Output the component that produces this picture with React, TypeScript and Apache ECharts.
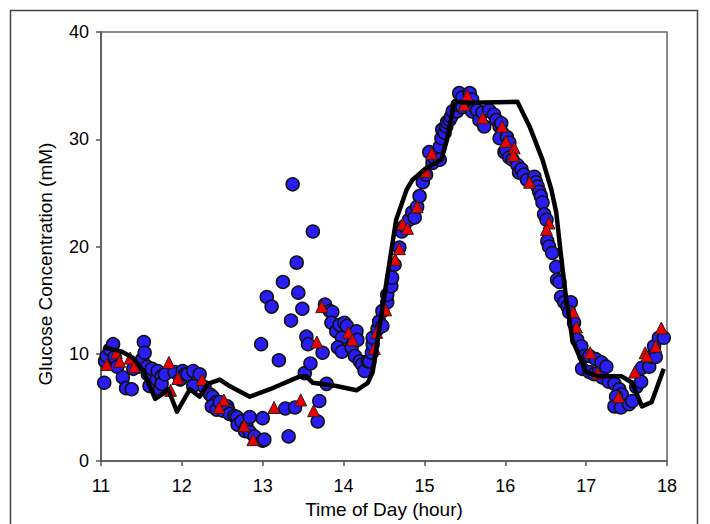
import React, { useEffect, useRef } from 'react';
import * as echarts from 'echarts';

const xTicks = [11, 12, 13, 14, 15, 16, 17, 18];
const yTicks = [0, 10, 20, 30, 40];
const xTitle = 'Time of Day (hour)';
const yTitle = 'Glucose Concentration (mM)';

// blue circles: [hour, mM]
const circleData: [number, number][] = [
  [11.04, 7.3], [11.05, 9.3], [11.07, 9.8], [11.11, 10.4], [11.15, 10.9], [11.17, 9.7], [11.2, 8.8],
  [11.27, 7.8], [11.31, 6.8], [11.38, 6.7], [11.4, 8.6], [11.46, 8.8], [11.51, 9.5], [11.53, 11.1],
  [11.54, 10.1], [11.57, 8.8], [11.58, 8.1], [11.6, 7.0], [11.63, 8.6], [11.69, 7.6], [11.7, 8.4],
  [11.73, 6.7], [11.75, 7.9], [11.75, 7.2], [11.79, 8.1], [11.91, 8.3], [11.98, 7.6], [12.01, 8.4],
  [12.04, 8.1], [12.07, 8.1], [12.14, 8.4], [12.14, 7.0], [12.22, 8.1], [12.28, 6.9], [12.35, 6.2],
  [12.38, 6.0], [12.43, 5.5], [12.37, 5.1], [12.43, 4.8], [12.47, 5.5], [12.51, 4.7], [12.56, 5.1],
  [12.57, 4.8], [12.59, 4.4], [12.65, 4.2], [12.68, 4.1], [12.69, 3.4], [12.74, 3.7], [12.78, 2.8],
  [12.8, 3.2], [12.84, 4.1], [12.84, 2.7], [12.9, 2.3], [13.0, 4.0], [13.0, 1.9], [13.02, 2.0],
  [12.98, 10.9], [13.05, 15.3], [13.11, 14.4], [13.2, 9.4], [13.25, 16.7], [13.28, 4.9], [13.32, 2.3],
  [13.35, 13.1], [13.37, 25.8], [13.4, 5.0], [13.42, 18.5], [13.44, 15.7], [13.49, 14.2], [13.52, 8.2],
  [13.54, 11.6], [13.56, 10.9], [13.59, 9.1], [13.62, 21.4], [13.68, 3.7], [13.7, 5.6], [13.74, 10.1],
  [13.77, 14.6], [13.79, 7.2], [13.83, 14.0], [13.86, 13.9], [13.85, 12.9], [13.91, 12.1], [13.95, 12.7],
  [14.01, 12.9], [14.04, 12.6], [13.98, 11.5], [13.93, 10.6], [13.98, 10.2], [14.1, 10.6], [14.16, 12.1],
  [14.17, 11.3], [14.14, 9.8], [14.2, 9.3], [14.23, 9.0], [14.26, 8.4], [14.3, 9.3], [14.32, 9.3],
  [14.35, 10.1], [14.36, 10.9], [14.36, 11.5], [14.42, 12.3], [14.44, 13.0], [14.48, 12.6], [14.48, 14.0],
  [14.54, 14.8], [14.54, 15.5], [14.59, 16.3], [14.6, 17.1], [14.63, 18.3], [14.69, 19.9], [14.72, 21.4],
  [14.75, 21.9], [14.81, 22.5], [14.85, 23.2], [14.88, 22.7], [14.91, 23.7], [14.94, 24.7], [14.98, 26.0],
  [15.02, 26.7], [15.06, 28.8], [15.1, 27.8], [15.12, 28.3], [15.19, 29.3], [15.19, 28.1], [15.21, 30.1],
  [15.22, 30.9], [15.25, 30.6], [15.27, 31.2], [15.28, 31.6], [15.31, 31.8], [15.33, 32.1], [15.35, 32.6],
  [15.4, 32.6], [15.41, 33.2], [15.43, 34.3], [15.47, 33.9], [15.47, 33.0], [15.56, 34.3], [15.59, 33.7],
  [15.58, 32.9], [15.59, 32.6], [15.65, 32.7], [15.68, 31.8], [15.72, 32.5], [15.74, 31.2], [15.8, 32.7],
  [15.86, 32.3], [15.89, 31.8], [15.93, 31.2], [15.95, 31.5], [15.96, 30.6], [15.93, 30.1], [16.02, 30.2],
  [16.05, 29.7], [15.99, 28.8], [16.01, 29.0], [16.05, 28.3], [16.09, 28.1], [16.15, 27.6], [16.17, 26.9],
  [16.2, 27.2], [16.23, 26.7], [16.27, 26.2], [16.36, 26.5], [16.38, 26.0], [16.4, 25.6], [16.42, 25.1],
  [16.44, 24.7], [16.46, 24.1], [16.48, 23.0], [16.51, 22.5], [16.52, 20.5], [16.54, 20.0], [16.58, 19.4],
  [16.63, 18.1], [16.64, 16.9], [16.67, 16.7], [16.69, 15.3], [16.73, 14.8], [16.77, 14.4], [16.81, 14.8],
  [16.79, 13.9], [16.85, 12.9], [16.89, 11.3], [16.94, 10.7], [16.98, 9.8], [17.04, 9.8], [16.95, 8.6],
  [17.04, 8.3], [17.1, 8.1], [17.12, 9.5], [17.16, 8.3], [17.19, 9.2], [17.2, 7.8], [17.25, 8.8],
  [17.28, 7.4], [17.35, 7.2], [17.41, 6.7], [17.44, 6.2], [17.37, 6.0], [17.35, 5.1], [17.43, 5.0],
  [17.53, 5.3], [17.57, 5.6], [17.62, 6.9], [17.68, 7.4], [17.69, 8.7], [17.78, 8.8], [17.81, 9.7],
  [17.86, 9.7], [17.84, 10.7], [17.9, 11.5], [17.96, 11.5],
];

// red triangles: [hour, mM]
const triangleData: [number, number][] = [
  [11.07, 9.0], [11.19, 10.1], [11.23, 9.3], [11.36, 9.6], [11.41, 8.8], [11.84, 9.2], [11.95, 7.7],
  [11.86, 6.6], [12.25, 7.6], [12.52, 5.7], [12.46, 5.0], [12.77, 3.3], [12.88, 2.0], [13.14, 5.0],
  [13.47, 5.7], [13.63, 4.7], [13.67, 11.1], [13.73, 14.4], [14.06, 12.0], [14.11, 11.3], [14.38, 10.5],
  [14.41, 12.0], [14.52, 14.1], [14.64, 18.8], [14.69, 19.8], [14.73, 22.1], [14.79, 21.7], [14.91, 23.7],
  [15.02, 27.0], [15.09, 28.7], [15.49, 33.2], [15.53, 34.1], [15.72, 32.0], [15.96, 31.2], [16.01, 29.8],
  [16.11, 29.2], [16.1, 28.5], [16.3, 26.0], [16.54, 22.2], [16.51, 21.6], [16.84, 13.9], [16.88, 12.5],
  [17.05, 10.1], [17.14, 8.2], [17.4, 6.0], [17.6, 8.3], [17.73, 10.1], [17.75, 9.8], [17.86, 10.7],
  [17.93, 12.4],
];

// black model line: [hour, mM]
const lineData: [number, number][] = [
  [11.04, 10.6], [11.26, 10.2], [11.4, 9.6], [11.52, 8.4], [11.67, 5.8], [11.75, 6.2], [11.83, 6.7],
  [11.94, 4.6], [12.1, 6.7], [12.22, 6.0], [12.32, 7.2], [12.47, 7.6], [12.59, 7.0], [12.84, 6.0],
  [13.09, 6.7], [13.46, 7.9], [13.54, 7.9], [13.62, 7.3], [13.91, 7.0], [14.16, 6.6], [14.3, 7.3],
  [14.36, 8.3], [14.51, 15.7], [14.65, 22.5], [14.78, 25.3], [14.85, 26.2], [15.02, 27.3], [15.21, 28.1],
  [15.28, 30.0], [15.37, 33.5], [15.56, 33.4], [16.15, 33.5], [16.3, 31.2], [16.46, 28.1], [16.57, 25.3],
  [16.63, 23.2], [16.69, 19.1], [16.75, 15.3], [16.83, 11.3], [17.0, 8.3], [17.16, 7.9], [17.44, 7.9],
  [17.57, 7.3], [17.69, 5.1], [17.81, 5.5], [17.96, 8.6],
];

const FONT = '"Liberation Sans", Arial, Helvetica, sans-serif';

export default function App() {
  const ref = useRef<HTMLDivElement>(null);
  useEffect(() => {
    const chart = echarts.init(ref.current!, null, { renderer: 'svg' });
    chart.setOption({
      animation: false,
      backgroundColor: '#ffffff',
      textStyle: { fontFamily: FONT },
      graphic: [
        {
          type: 'rect',
          shape: { x: 10.5, y: 10.5, width: 687, height: 540 },
          style: { fill: 'none', stroke: '#444', lineWidth: 1.5 },
          silent: true,
        },
        {
          type: 'text',
          x: 45,
          y: 264,
          rotation: Math.PI / 2,
          silent: true,
          style: {
            text: yTitle,
            fontSize: 19,
            fontFamily: FONT,
            fill: '#000',
            align: 'center',
            verticalAlign: 'middle',
          },
        },
      ],
      grid: {
        left: 101,
        top: 32,
        right: 43,
        bottom: 62,
        show: true,
        borderColor: '#666',
        borderWidth: 1.5,
        backgroundColor: 'transparent',
      },
      xAxis: {
        type: 'value',
        min: xTicks[0],
        max: xTicks[xTicks.length - 1],
        interval: 1,
        name: xTitle,
        nameLocation: 'middle',
        nameGap: 38,
        nameTextStyle: { fontSize: 19, color: '#000', fontFamily: FONT },
        axisLine: { show: true, onZero: false, lineStyle: { color: '#555', width: 1.5 } },
        axisTick: { show: true, inside: false, length: 5, lineStyle: { color: '#555', width: 1.5 } },
        axisLabel: { fontSize: 18, color: '#000', margin: 16, fontFamily: FONT },
        splitLine: { show: false },
      },
      yAxis: {
        type: 'value',
        min: yTicks[0],
        max: yTicks[yTicks.length - 1],
        interval: 10,
        axisLine: { show: true, onZero: false, lineStyle: { color: '#555', width: 1.5 } },
        axisTick: { show: true, inside: false, length: 5, lineStyle: { color: '#555', width: 1.5 } },
        axisLabel: { fontSize: 18, color: '#000', margin: 12, fontFamily: FONT },
        splitLine: { show: false },
      },
      series: [
        {
          type: 'scatter',
          name: 'circles',
          data: circleData,
          symbol: 'circle',
          symbolSize: 13,
          itemStyle: { color: '#2a1cf5', borderColor: '#111', borderWidth: 1.5, opacity: 1 },
          z: 2,
        },
        {
          type: 'scatter',
          name: 'triangles',
          data: triangleData,
          symbol: 'triangle',
          symbolSize: 12,
          itemStyle: { color: '#ee0000', borderColor: '#222', borderWidth: 1, opacity: 1 },
          z: 3,
        },
        {
          type: 'line',
          name: 'model',
          data: lineData,
          showSymbol: false,
          symbol: 'none',
          lineStyle: { color: '#000', width: 4.5, join: 'round' },
          z: 4,
        },
      ],
    });
    return () => chart.dispose();
  }, []);
  return (
    <div
      ref={ref}
      style={{ position: 'fixed', left: 0, top: 0, width: 710, height: 524, background: '#fff' }}
    />
  );
}
